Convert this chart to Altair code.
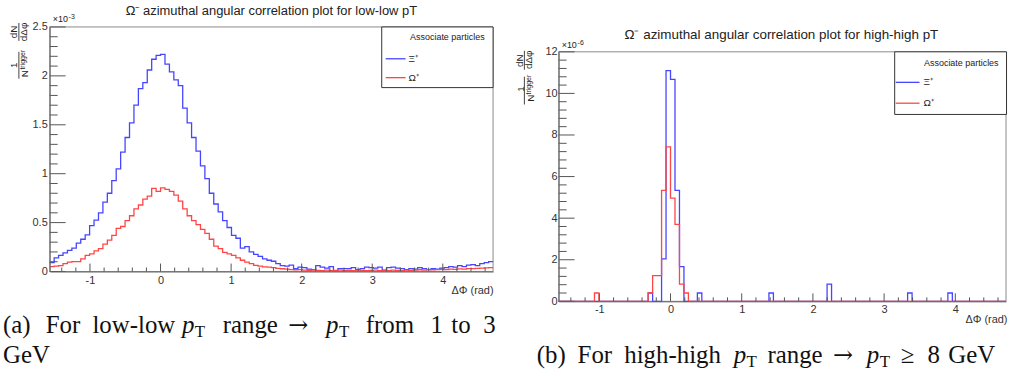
import math
import pandas as pd
import altair as alt

# ---------------- data ----------------
PHI_MIN = -math.pi / 2
PHI_MAX = 3 * math.pi / 2
N_BINS = 100

series = ["Ξ⁺", "Ω⁺"]
colors = ["#4646ff", "#ff4646"]

# low-low pT, values in units of 1e-3
low_xi = [
    0.09, 0.14, 0.165, 0.19, 0.215, 0.24, 0.29, 0.33, 0.375, 0.47,
    0.525, 0.60, 0.71, 0.80, 0.93, 1.05, 1.22, 1.37, 1.52, 1.70,
    1.87, 1.93, 2.06, 2.17, 2.21, 2.22, 2.12, 2.04, 1.96, 1.90,
    1.67, 1.52, 1.37, 1.23, 1.08, 0.95, 0.80, 0.69, 0.61, 0.52,
    0.45, 0.37, 0.34, 0.24, 0.255, 0.20, 0.175, 0.155, 0.13, 0.115,
    0.105, 0.08, 0.06, 0.055, 0.065, 0.03, 0.045, 0.04, 0.025, 0.02,
    0.06, 0.045, 0.035, 0.05, 0.01, 0.03, 0.03, 0.03, 0.04, 0.02,
    0.03, 0.045, 0.04, 0.035, 0.045, 0.015, 0.04, 0.045, 0.035, 0.03,
    0.02, 0.03, 0.025, 0.04, 0.03, 0.02, 0.03, 0.025, 0.035, 0.04,
    0.05, 0.045, 0.06, 0.05, 0.065, 0.07, 0.06, 0.08, 0.09, 0.10,
]
low_omega = [
    0.05, 0.055, 0.06, 0.08, 0.095, 0.10, 0.10, 0.13, 0.165, 0.18,
    0.21, 0.235, 0.28, 0.32, 0.37, 0.44, 0.46, 0.52, 0.57, 0.64,
    0.68, 0.74, 0.77, 0.85, 0.82, 0.855, 0.84, 0.82, 0.78, 0.72,
    0.64, 0.57, 0.52, 0.48, 0.43, 0.39, 0.33, 0.26, 0.235, 0.195,
    0.18, 0.165, 0.14, 0.115, 0.096, 0.08, 0.062, 0.055, 0.048, 0.044,
    0.04, 0.032, 0.028, 0.025, 0.02, 0.018, 0.02, 0.015, 0.012, 0.015,
    0.012, 0.01, 0.015, 0.01, 0.012, 0.015, 0.01, 0.012, 0.01, 0.015,
    0.012, 0.01, 0.012, 0.015, 0.01, 0.012, 0.01, 0.015, 0.012, 0.01,
    0.015, 0.012, 0.015, 0.018, 0.015, 0.02, 0.018, 0.02, 0.022, 0.02,
    0.025, 0.022, 0.027, 0.025, 0.03, 0.03, 0.033, 0.035, 0.037, 0.04,
]

# high-high pT, values in units of 1e-6 (non-empty bins only)
high_xi_bins = [20, 23, 24, 25, 26, 27, 31, 47, 60, 78, 87]
high_xi_vals = [0.4, 2.04, 11.1, 10.67, 5.34, 1.67, 0.4, 0.4, 0.83, 0.4, 0.4]
high_omega_bins = [8, 20, 21, 22, 23, 24, 25, 26, 27, 28]
high_omega_vals = [0.4, 0.4, 1.24, 1.24, 5.34, 7.43, 4.96, 3.70, 0.83, 0.4]

x_major = [-1, 0, 1, 2, 3, 4]
x_minor = [round(0.2 * k, 1) for k in range(-7, 24) if k % 5 != 0]
low_y_major = [0, 0.5, 1, 1.5, 2, 2.5]
low_y_minor = [round(0.1 * k, 1) for k in range(1, 25) if k % 5 != 0]
high_y_major = [0, 2, 4, 6, 8, 10, 12]
high_y_minor = [round(0.4 * k, 1) for k in range(1, 30) if k % 5 != 0]

SANS = "Liberation Sans"
SERIF = "Liberation Serif"
TXT = "#222"


def expand(bins, vals):
    full = [0.0] * N_BINS
    for b, v in zip(bins, vals):
        full[b] = v
    return full


def hist_frame(pairs):
    w = (PHI_MAX - PHI_MIN) / N_BINS
    rows = []
    for name, vals in pairs:
        for k in range(N_BINS):
            rows.append({"phi": PHI_MIN + w * k, "v": vals[k], "s": name})
        rows.append({"phi": PHI_MAX, "v": vals[-1], "s": name})
    return pd.DataFrame(rows)


def one():
    return pd.DataFrame({"t": [0]})


def text_layer(s, ax, ay, o, size=11, font=SANS, align="left",
               baseline="alphabetic", angle=0, style="normal", color=TXT):
    kw = dict(align=align, baseline=baseline, font=font, fontSize=size,
              fontStyle=style, color=color)
    if angle:
        kw["angle"] = angle
    return alt.Chart(pd.DataFrame({"t": [s]})).mark_text(**kw).encode(
        text="t:N", x=alt.value(ax - o[0]), y=alt.value(ay - o[1]))


def vrule(ax, ay1, ay2, o, color="#333", width=1):
    return alt.Chart(one()).mark_rule(color=color, strokeWidth=width).encode(
        x=alt.value(ax - o[0]), y=alt.value(ay1 - o[1]), y2=alt.value(ay2 - o[1]))


def hrule(ax1, ax2, ay, o, color="#333", width=1):
    return alt.Chart(one()).mark_rule(color=color, strokeWidth=width).encode(
        x=alt.value(ax1 - o[0]), x2=alt.value(ax2 - o[0]), y=alt.value(ay - o[1]))


def rect(ax1, ay1, ax2, ay2, o, **kw):
    return alt.Chart(one()).mark_rect(**kw).encode(
        x=alt.value(ax1 - o[0]), x2=alt.value(ax2 - o[0]),
        y=alt.value(ay1 - o[1]), y2=alt.value(ay2 - o[1]))


def panel(df, W, H, o, ymax, yrange, y_major, y_minor, ylab_pad, xlab_pad,
          xtitle_x, xtitle_y, box, title, title_xy, title_size, expo, frac,
          legend, caption):
    xs = alt.Scale(domain=[PHI_MIN, PHI_MAX], nice=False, zero=False)
    ys = alt.Scale(domain=[0, ymax], range=yrange, nice=False)
    x_axis = alt.Axis(
        values=x_major, labelExpr="'' + datum.value", ticks=False, tickSize=0,
        labelPadding=xlab_pad, labelFontSize=11, labelFont=SANS, labelColor="#333",
        domainColor="#666", grid=False, zindex=1, labelFlush=False,
        title="ΔΦ (rad)", titleX=xtitle_x, titleY=xtitle_y,
        titleAlign="right", titleBaseline="middle", titleFont=SANS,
        titleFontSize=11, titleFontWeight="normal", titleColor="#333")
    y_axis = alt.Axis(
        values=y_major, labelExpr="'' + datum.value", ticks=False, tickSize=0,
        labelPadding=ylab_pad, labelFontSize=11, labelFont=SANS, labelColor="#333",
        domainColor="#666", grid=False, zindex=1, title="")

    def X(field):
        return alt.X(field, scale=xs, axis=x_axis)

    def Y(field):
        return alt.Y(field, scale=ys, axis=y_axis)

    layers = []
    # full-panel invisible extent (fixes the panel's layout box)
    layers.append(rect(box[0], box[1], box[2], box[3], o, opacity=0))
    # plot frame, drawn through the scales
    frame_df = pd.DataFrame({"x0": [PHI_MIN], "x1": [PHI_MAX], "y0": [0], "y1": [ymax]})
    layers.append(alt.Chart(frame_df).mark_rect(fillOpacity=0, stroke="#8a8a8a", strokeWidth=1).encode(
        x=X("x0:Q"), x2="x1:Q", y=Y("y0:Q"), y2="y1:Q"))
    lines = alt.Chart(df).mark_line(interpolate="step-after", strokeWidth=1.3).encode(
        x=X("phi:Q"),
        y=Y("v:Q"),
        color=alt.Color("s:N", scale=alt.Scale(domain=series, range=colors), legend=None),
    )
    layers.append(lines)
    # inward ticks
    for vals, ln in ((x_major, 8), (x_minor, 4)):
        layers.append(alt.Chart(pd.DataFrame({"t": vals})).mark_rule(color="#555").encode(
            x=X("t:Q"), y=alt.value(H), y2=alt.value(H - ln)))
    for vals, ln in ((y_major, 16), (y_minor, 8)):
        layers.append(alt.Chart(pd.DataFrame({"t": vals})).mark_rule(color="#555").encode(
            y=Y("t:Q"), x=alt.value(0), x2=alt.value(ln)))
    # title
    layers.append(text_layer(title, title_xy[0], title_xy[1], o, size=title_size, align="center"))
    # exponent
    layers.append(text_layer("×10", expo[0], expo[1], o, size=9))
    layers.append(text_layer(expo[2], expo[0] + 16, expo[1] - 3.5, o, size=7))
    # y title fraction
    (dn, bar1, dphi, one_, bar2, nn, trig) = frac
    layers.append(text_layer("dN", dn[0], dn[1], o, size=10, align="center", baseline="middle", angle=270))
    layers.append(vrule(bar1[0], bar1[1], bar1[2], o, color="#444"))
    layers.append(text_layer("dΔφ", dphi[0], dphi[1], o, size=10, align="center", baseline="middle", angle=270))
    layers.append(text_layer("1", one_[0], one_[1], o, size=10, align="center", baseline="middle", angle=270))
    layers.append(vrule(bar2[0], bar2[1], bar2[2], o, color="#444"))
    layers.append(text_layer("N", nn[0], nn[1], o, size=10, align="center", baseline="middle", angle=270))
    layers.append(text_layer("trigger", trig[0], trig[1], o, size=7, align="center", baseline="middle", angle=270))
    # legend box
    (lx1, ly1, lx2, ly2, tcx, tcy, sx1, sx2, lab_x, ey) = legend
    layers.append(rect(lx1, ly1, lx2, ly2, o, fill="white", stroke="#333", strokeWidth=1))
    layers.append(text_layer("Associate particles", tcx, tcy, o, size=9, align="center", baseline="middle"))
    for i, name in enumerate(series):
        layers.append(hrule(sx1, sx2, ey[i], o, color=colors[i], width=1.3))
        layers.append(text_layer(name, lab_x, ey[i], o, size=10, baseline="middle"))
    # caption
    for (s, cx, cy, size, style, font) in caption:
        layers.append(text_layer(s, cx, cy, o, size=size, font=font, style=style, color="#111"))
    return alt.layer(*layers).properties(width=W, height=H)


df_low = hist_frame([(series[0], low_xi), (series[1], low_omega)])
df_high = hist_frame([(series[0], expand(high_xi_bins, high_xi_vals)),
                      (series[1], expand(high_omega_bins, high_omega_vals))])

CAP = 25
SUB = 17
ARW = "DejaVu Serif"
cap_a = [
    ("(a)", 2, 333, CAP, "normal", SERIF), ("For", 45, 333, CAP, "normal", SERIF),
    ("low-low", 92, 333, CAP, "normal", SERIF), ("p", 182, 333, CAP, "italic", SERIF),
    ("T", 195, 337, SUB, "normal", SERIF), ("range", 223, 333, CAP, "normal", SERIF),
    ("→", 289, 333, 24, "normal", ARW), ("p", 327, 333, CAP, "italic", SERIF),
    ("T", 340, 337, SUB, "normal", SERIF), ("from", 367, 333, CAP, "normal", SERIF),
    ("1", 432, 333, CAP, "normal", SERIF), ("to", 453, 333, CAP, "normal", SERIF),
    ("3", 485, 333, CAP, "normal", SERIF), ("GeV", 2, 363, CAP, "normal", SERIF),
]
cap_b = [
    ("(b)", 537, 363, CAP, "normal", SERIF), ("For", 578, 363, CAP, "normal", SERIF),
    ("high-high", 625, 363, CAP, "normal", SERIF), ("p", 735, 363, CAP, "italic", SERIF),
    ("T", 748, 367, SUB, "normal", SERIF), ("range", 769, 363, CAP, "normal", SERIF),
    ("→", 835, 363, 24, "normal", ARW), ("p", 869, 363, CAP, "italic", SERIF),
    ("T", 882, 367, SUB, "normal", SERIF), ("≥", 903, 363, CAP, "normal", SERIF),
    ("8", 930, 363, CAP, "normal", SERIF), ("GeV", 951, 363, CAP, "normal", SERIF),
]

oa = (49, 25)
ob = (559, 25)

panel_a = panel(
    df_low, 446, 246, oa, 2.5, [246, 0], low_y_major, low_y_minor, 2.5, 3, 446, 19,
    (0, 0, 505, 376),
    "Ω⁻ azimuthal angular correlation plot for low-low pT", (272, 12.5), 13,
    (52, 20.5, "-3"),
    ((13, 30), (18, 21, 39), (23.5, 30), (13, 63.5), (18, 50, 77), (24.5, 72), (22.5, 58)),
    (383, 25, 495, 86, 449, 35, 387, 407, 410, (57, 76)),
    cap_a,
)
panel_b = panel(
    df_high, 450, 276, ob, 12, [276, 25], high_y_major, high_y_minor, 1.5, 2.5, 451, 18,
    (505, 0, 1010, 376),
    "Ω⁻ azimuthal angular correlation plot for high-high pT", (783, 37.5), 13.5,
    (562, 46.5, "-6"),
    ((520.5, 59), (524.5, 49, 68), (529.5, 58), (521.5, 87.5), (524.5, 75, 103), (531, 96.5), (529.5, 83)),
    (897, 50, 1009.5, 113, 964, 61, 898, 922, 926, (80.7, 101.7)),
    cap_b,
)

chart = alt.hconcat(panel_a, panel_b, spacing=0).properties(
    padding=0, background="white"
).configure_view(stroke="transparent")

chart.save("out.html", embed_options={"renderer": "svg", "actions": False})
